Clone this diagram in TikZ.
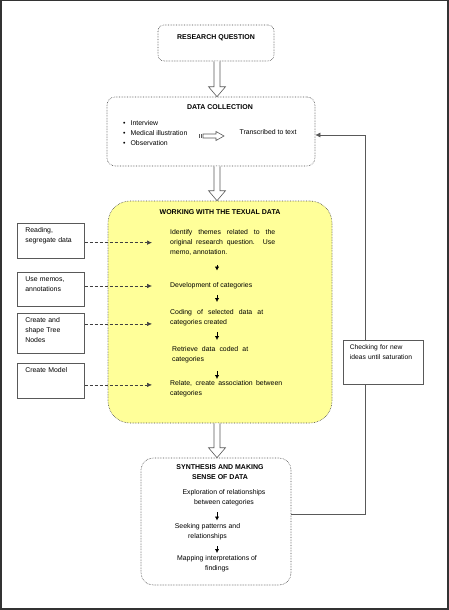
\documentclass[tikz,border=0pt]{standalone}
\usepackage{fontspec}
\setmainfont{Liberation Sans}
\usetikzlibrary{calc,arrows.meta}
\definecolor{notefill}{RGB}{255,255,153}
\tolerance=10000
\hyphenpenalty=10000

\begin{document}
\begin{tikzpicture}[x=1pt,y=-1pt]
\useasboundingbox (0,0) rectangle (449,610);
\tikzset{frame/.style={draw=black!80,line width=1.5pt}}
\draw[frame] (0.75,0.75) rectangle (447.75,608.75);
\tikzset{txt/.style={font=\fontsize{6.9}{10}\selectfont,inner sep=0pt}}
\tikzset{ttl/.style={font=\bfseries\fontsize{7}{10}\selectfont,inner sep=0pt,align=center}}
\tikzset{mainbox/.style={draw=black!70,line width=0.6pt,densely dotted,fill=white}}
\tikzset{sidebox/.style={draw=black!65,line width=0.7pt,fill=white,txt,align=left,text width=51pt,inner xsep=8pt,inner ysep=4.5pt,text height=5pt,anchor=north west}}
\tikzset{hollow/.style={draw=black!65,line width=0.6pt,fill=white,line join=miter}}
\tikzset{darr/.style={-{Latex[length=4pt,width=4.5pt]},line width=0.8pt}}
\tikzset{sarr/.style={densely dashed,draw=black!75,line width=0.6pt,-{Latex[length=5pt,width=4.5pt]}}}
\tikzset{fb/.style={draw=black!65,line width=0.6pt}}
\coordinate (ax) at (217,0);
\coordinate (fbx) at (365,0);
\node[mainbox,rounded corners=6pt,minimum width=116pt,minimum height=36pt] (rq) at (216,43) {};
\node[ttl] (rqt) at (216,38) {RESEARCH QUESTION};
\node[mainbox,rounded corners=8pt,minimum width=208pt,minimum height=69pt] (dc) at (211,131.5) {};
\node[ttl] (dct) at (220,107) {DATA COLLECTION};
\node[txt,align=left,anchor=north west] (dcl) at (123,120) {\textbullet\hspace{5pt}Interview\\\textbullet\hspace{5pt}Medical illustration\\\textbullet\hspace{5pt}Observation};
\node[txt] (dcr) at (268,132) {Transcribed to text};
\coordinate (sa) at (203,136);
\draw[hollow] ($(sa)+(0,-2)$) -- ($(sa)+(13,-2)$) -- ($(sa)+(13,-4.5)$) -- ($(sa)+(21,0)$) -- ($(sa)+(13,4.5)$) -- ($(sa)+(13,2)$) -- ($(sa)+(0,2)$) -- cycle;
\draw[black!65,line width=0.7pt] ($(sa)+(-4,-2)$) -- ($(sa)+(-4,2)$) ($(sa)+(-2,-2)$) -- ($(sa)+(-2,2)$);
\draw[hollow] ($(ax |- rq.south)+(-3,0)$) -- ($(ax |- dc.north)+(-3,-10)$) -- ($(ax |- dc.north)+(-8.5,-10)$) -- (ax |- dc.north) -- ($(ax |- dc.north)+(8.5,-10)$) -- ($(ax |- dc.north)+(3,-10)$) -- ($(ax |- rq.south)+(3,0)$);
\node[mainbox,fill=notefill,rounded corners=22pt,minimum width=224pt,minimum height=222pt] (wk) at (220,312) {};
\draw[hollow] ($(ax |- dc.south)+(-3,0)$) -- ($(ax |- wk.north)+(-3,-10)$) -- ($(ax |- wk.north)+(-8.5,-10)$) -- (ax |- wk.north) -- ($(ax |- wk.north)+(8.5,-10)$) -- ($(ax |- wk.north)+(3,-10)$) -- ($(ax |- dc.south)+(3,0)$);
\node[ttl] (wkt) at (220,212) {WORKING WITH THE TEXUAL DATA};
\node[txt,align=justify,text width=105pt,anchor=north west] (t1) at (170,229.5) {Identify themes related to the\linebreak original research question. Use\linebreak memo, annotation.};
\node[txt,anchor=west] (t2) at (170,286) {Development of categories};
\node[txt,align=justify,text width=93pt,anchor=north west] (t3) at (170,309.5) {Coding of selected data at\linebreak categories created};
\node[txt,align=justify,text width=76pt,anchor=north west] (t4) at (172,346.5) {Retrieve data coded at\linebreak categories};
\node[txt,align=justify,text width=112pt,anchor=north west] (t5) at (170,380.5) {Relate, create association between\linebreak categories};
\draw[darr,shorten <=9pt,shorten >=12pt] (ax |- t1.south) -- (ax |- t2.north);
\draw[darr,shorten <=5.5pt,shorten >=7.5pt] (ax |- t2.south) -- (ax |- t3.north);
\draw[darr,shorten <=5.5pt,shorten >=6.5pt] (ax |- t3.south) -- (ax |- t4.north);
\draw[darr,shorten <=7.5pt,shorten >=1.5pt] (ax |- t4.south) -- (ax |- t5.north);
\node[sidebox,text depth=21pt] (l1) at (17,223) {Reading,\\segregate data};
\node[sidebox,text depth=20pt] (l2) at (17,272) {Use memos,\\annotations};
\node[sidebox,text depth=26pt] (l3) at (17,313) {Create and\\shape Tree\\Nodes};
\node[sidebox,text depth=21pt] (l4) at (17,363) {Create Model};
\draw[sarr] (l1.east |- t1.west) -- ($(t1.west)+(-18,0)$);
\draw[sarr] (l2.east |- t2.west) -- ($(t2.west)+(-18,0)$);
\draw[sarr] ($(l3.east |- t3.west)+(0,6)$) -- ($(t3.west)+(-18,6)$);
\draw[sarr] ($(l4.east |- t5.west)+(0,-4)$) -- ($(t5.west)+(-18,-4)$);
\node[mainbox,rounded corners=12pt,minimum width=150pt,minimum height=127pt] (sy) at (216,521.5) {};
\draw[hollow] ($(ax |- wk.south)+(-3,0)$) -- ($(ax |- sy.north)+(-3,-10)$) -- ($(ax |- sy.north)+(-8.5,-10)$) -- (ax |- sy.north) -- ($(ax |- sy.north)+(8.5,-10)$) -- ($(ax |- sy.north)+(3,-10)$) -- ($(ax |- wk.south)+(3,0)$);
\node[ttl,anchor=north] (syt) at (220,464.5) {SYNTHESIS AND MAKING\\SENSE OF DATA};
\node[txt,align=center,anchor=north] (s1) at (224,489.5) {Exploration of relationships\\between categories};
\node[txt,align=center,anchor=north] (s2) at (207.5,523.5) {Seeking patterns and\\relationships};
\node[txt,align=center,anchor=north] (s3) at (217,555.5) {Mapping interpretations of\\findings};
\draw[darr,shorten <=6pt,shorten >=3pt] (ax |- s1.south) -- (ax |- s2.north);
\draw[darr,shorten <=6pt,shorten >=2.5pt] (ax |- s2.south) -- (ax |- s3.north);
\node[sidebox,font=\fontsize{6.7}{10}\selectfont,text width=67pt,inner xsep=6.5pt,text depth=30pt] (ch) at (343,340) {Checking for new\\ideas until saturation};
\draw[fb] ([yshift=7.5pt]sy.east) -| (fbx |- ch.south);
\draw[fb,-{Latex[length=5pt,width=5pt]}] (fbx |- ch.north) |- ([yshift=-3.5pt]dc.east);
\end{tikzpicture}
\end{document}
